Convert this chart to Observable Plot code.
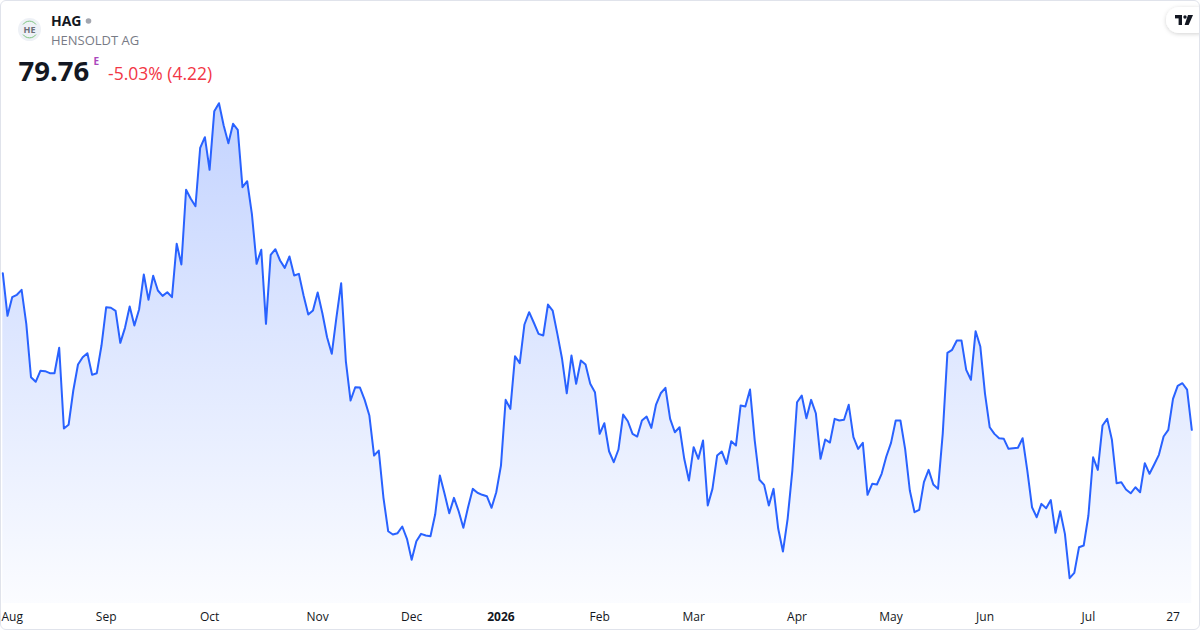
<!DOCTYPE html>
<html>
<head>
<meta charset="utf-8">
<script src="https://cdn.jsdelivr.net/npm/d3@7"></script>
<script src="https://cdn.jsdelivr.net/npm/@observablehq/plot@0.6"></script>
<style>
  html, body { margin: 0; padding: 0; background: #fff; }
  #card { position: relative; width: 1200px; height: 630px; overflow: hidden; background: #fff; font-family: "Open Sans", sans-serif; }
  #chart { position: absolute; left: 0; top: 0; }
  #header { position: absolute; left: 0; top: 0; }
  #frame { position: absolute; left: 0; top: 0; width: 1200px; height: 630px; box-sizing: border-box; border: 1px solid #e0e3eb; border-radius: 6px; pointer-events: none; }
</style>
</head>
<body>
<div id="card">
  <div id="chart"></div>
  <svg id="header" width="1200" height="100" font-family="'Open Sans', sans-serif">
    <circle cx="29.5" cy="29.5" r="11.5" fill="#eef1f6"></circle>
    <path d="M23 24.5 A8 8 0 0 1 36 24.5" fill="none" stroke="#7cc47f" stroke-width="1"></path>
    <path d="M23 34.5 A8 8 0 0 0 36 34.5" fill="none" stroke="#7cc47f" stroke-width="1"></path>
    <text x="29.5" y="32.8" font-size="9" font-weight="700" fill="#6b6e78" text-anchor="middle">HE</text>
    <text x="51" y="26" font-size="14" font-weight="700" fill="#131722">HAG</text>
    <circle cx="88.5" cy="21" r="2.8" fill="#a3a6af"></circle>
    <text x="51" y="45" font-size="13" fill="#787b86">HENSOLDT AG</text>
    <text x="18.5" y="81" font-size="27.5" font-weight="700" fill="#131722">79.76</text>
    <text x="93.5" y="65" font-size="10" font-weight="700" fill="#ab47bc">E</text>
    <text x="108" y="80" font-size="17.5" fill="#f23645">-5.03% (4.22)</text>
  </svg>
  <svg style="position:absolute;left:1160px;top:2px" width="40" height="40">
    <defs>
      <filter id="sh" x="-50%" y="-50%" width="200%" height="200%">
        <feDropShadow dx="0" dy="1" stdDeviation="2" flood-color="#000" flood-opacity="0.18"></feDropShadow>
      </filter>
    </defs>
    <rect x="6" y="5" width="44" height="26" rx="13" fill="#fff" filter="url(#sh)"></rect>
    <rect x="15" y="13" width="7" height="3.4" fill="#131722"></rect>
    <rect x="18.6" y="13" width="3.4" height="10" fill="#131722"></rect>
    <circle cx="25" cy="15" r="1.7" fill="#131722"></circle>
    <polygon points="28,13 33,13 28.6,23 24.6,23" fill="#131722"></polygon>
  </svg>
  <div id="frame"></div>
</div>
<script>
// Daily closing prices (EUR), one per trading day, Jul 31 2025 -> end Jul 2026
const prices = [
  96.16, 91.70, 93.65, 93.90, 94.42, 90.86, 85.27, 84.79, 85.94, 85.90,
  85.69, 85.69, 88.35, 79.90, 80.29, 83.88, 86.60, 87.36, 87.78, 85.52,
  85.69, 88.59, 92.60, 92.54, 92.22, 88.87, 90.44, 92.67, 90.68, 92.36,
  96.02, 93.37, 95.89, 94.35, 93.79, 94.17, 93.65, 99.24, 97.07, 104.89,
  103.95, 103.17, 109.29, 110.40, 106.98, 113.12, 113.96, 111.62, 109.77, 111.80,
  111.17, 105.16, 105.79, 102.38, 97.14, 98.61, 90.86, 98.08, 98.67, 97.49,
  96.72, 97.91, 95.92, 96.09, 93.82, 91.83, 92.25, 94.14, 91.97, 89.46,
  87.72, 91.55, 95.11, 86.94, 82.83, 84.22, 84.19, 82.90, 81.26, 77.07,
  77.59, 72.64, 69.15, 68.80, 68.94, 69.64, 68.35, 66.15, 68.10, 68.87,
  68.70, 68.62, 70.89, 74.98, 73.06, 71.03, 72.64, 71.24, 69.50, 71.66,
  73.58, 73.17, 72.96, 72.81, 71.60, 73.23, 76.02, 82.90, 81.96, 87.47,
  86.74, 90.79, 92.08, 90.97, 89.81, 89.64, 92.88, 92.25, 89.81, 87.20,
  83.59, 87.54, 84.58, 87.02, 86.60, 84.58, 83.70, 79.34, 80.45, 77.52,
  76.37, 77.70, 81.36, 80.66, 79.34, 79.06, 80.74, 81.15, 79.97, 82.41,
  83.59, 84.16, 80.91, 79.51, 80.03, 76.73, 74.45, 77.94, 76.73, 78.64,
  71.84, 73.58, 77.07, 77.49, 76.20, 78.57, 78.12, 82.31, 82.20, 83.98,
  78.64, 74.53, 74.00, 71.84, 73.58, 69.40, 67.02, 70.44, 75.50, 82.65,
  83.35, 80.98, 82.90, 81.50, 76.73, 78.75, 78.43, 80.91, 80.74, 80.81,
  82.38, 78.99, 77.77, 78.40, 72.96, 74.11, 74.04, 75.16, 76.97, 78.40,
  80.74, 80.74, 77.77, 73.41, 71.14, 71.39, 74.28, 75.57, 74.04, 73.58,
  79.34, 87.82, 88.14, 89.11, 89.11, 86.04, 85.00, 90.09, 88.48, 83.53,
  80.03, 79.34, 78.88, 78.82, 77.77, 77.84, 77.88, 78.88, 75.50, 71.66,
  70.61, 72.01, 71.55, 72.41, 68.98, 71.24, 68.87, 64.23, 64.79, 67.47,
  67.65, 70.79, 76.89, 75.57, 80.21, 80.91, 78.72, 74.17, 74.28, 73.51,
  73.12, 73.75, 73.23, 76.27, 75.16, 76.13, 77.14, 79.06, 79.76, 83.01,
  84.37, 84.64, 83.98, 79.76
];

// x-axis tick labels at trading-day indices
const tickIndex  = [1, 22, 44, 67, 87, 106, 127, 147, 169, 189, 209, 231, 249];
const tickLabels = ["Aug", "Sep", "Oct", "Nov", "Dec", "2026", "Feb", "Mar", "Apr", "May", "Jun", "Jul", "27"];
const tickBold   = [false, false, false, false, false, true, false, false, false, false, false, false, false];

const yMin = 61.58, yMax = 114.24;

const series = prices.map((p, i) => ({i, p}));
const ticks = tickIndex.map((i, k) => ({i, label: tickLabels[k], bold: tickBold[k], first: k === 0}));

const chart = Plot.plot({
  width: 1200,
  height: 630,
  marginTop: 100,
  marginBottom: 27,
  marginLeft: 2.3,
  marginRight: 8.7,
  style: {background: "transparent", fontFamily: "'Open Sans', sans-serif"},
  x: {domain: [0, prices.length - 1], axis: null},
  y: {domain: [yMin, yMax], axis: null},
  marks: [
    Plot.areaY(series, {x: "i", y1: yMin, y2: "p", fill: "url(#areaGrad)", curve: "linear"}),
    Plot.lineY(series, {x: "i", y: "p", stroke: "#2962ff", strokeWidth: 2, curve: "linear", strokeLinejoin: "round"}),
    Plot.text(ticks.filter(d => d.first), {x: "i", text: "label", frameAnchor: "bottom", dy: 14, dx: -6, textAnchor: "start", lineAnchor: "middle", fontSize: 12, fill: "#131722"}),
    Plot.text(ticks.filter(d => !d.first && !d.bold), {x: "i", text: "label", frameAnchor: "bottom", dy: 14, lineAnchor: "middle", fontSize: 12, fill: "#131722"}),
    Plot.text(ticks.filter(d => d.bold), {x: "i", text: "label", frameAnchor: "bottom", dy: 14, lineAnchor: "middle", fontSize: 12, fontWeight: 700, fill: "#131722"})
  ]
});

const NS = "http://www.w3.org/2000/svg";
const defs = document.createElementNS(NS, "defs");
const grad = document.createElementNS(NS, "linearGradient");
grad.setAttribute("id", "areaGrad");
grad.setAttribute("x1", "0"); grad.setAttribute("y1", "0");
grad.setAttribute("x2", "0"); grad.setAttribute("y2", "1");
[["0%", "rgba(41,98,255,0.28)"], ["100%", "rgba(41,98,255,0.02)"]].forEach(([o, c]) => {
  const s = document.createElementNS(NS, "stop");
  s.setAttribute("offset", o);
  s.setAttribute("stop-color", c);
  grad.appendChild(s);
});
defs.appendChild(grad);
chart.insertBefore(defs, chart.firstChild);

document.getElementById("chart").appendChild(chart);
</script>
</body>
</html>
